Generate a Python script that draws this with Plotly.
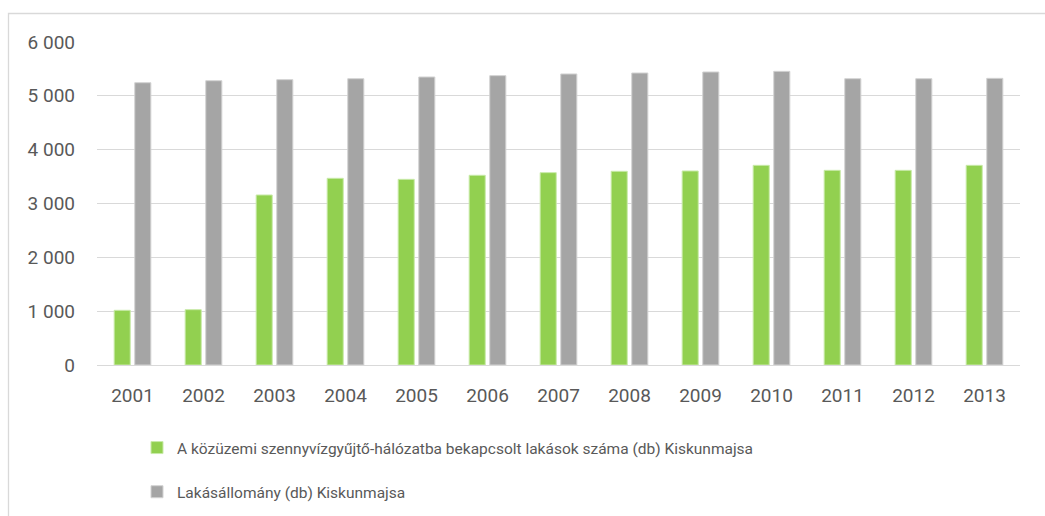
import plotly.graph_objects as go

years = ["2001", "2002", "2003", "2004", "2005", "2006", "2007",
         "2008", "2009", "2010", "2011", "2012", "2013"]
connected = [1016, 1028, 3158, 3468, 3449, 3524, 3573,
             3598, 3604, 3709, 3616, 3616, 3709]
housing_stock = [5244, 5281, 5300, 5318, 5350, 5375, 5406,
                 5424, 5443, 5455, 5318, 5318, 5325]
y_ticks = [0, 1000, 2000, 3000, 4000, 5000, 6000]
y_tick_labels = ["0", "1 000", "2 000", "3 000", "4 000", "5 000", "6 000"]

name_connected = "A közüzemi szennyvízgyűjtő-hálózatba bekapcsolt lakások száma (db) Kiskunmajsa"
name_stock = "Lakásállomány (db) Kiskunmajsa"

FONT = "Roboto, Liberation Sans, Arial, sans-serif"
TEXT = "#595959"

W, H = 1045, 516
L, R, T, B = 97, 25, 42, 151
pw, ph = W - L - R, H - T - B

fig = go.Figure()
fig.add_trace(go.Bar(
    x=years, y=connected, name=name_connected, legendgroup="a",
    marker=dict(color="#92d050", line=dict(color="#c9eaa9", width=1)),
))
fig.add_trace(go.Bar(
    x=years, y=housing_stock, name=name_stock, legendgroup="b",
    marker=dict(color="#a5a5a5", line=dict(color="#d2d2d2", width=1)),
))

# outer chart frame
fig.add_shape(
    type="rect", xref="paper", yref="paper",
    x0=(8.5 - L) / pw, x1=(W + 20 - L) / pw,
    y0=(T + ph - (H + 20)) / ph, y1=(T + ph - 13.5) / ph,
    line=dict(color="#d9d9d9", width=1.3), fillcolor="rgba(0,0,0,0)",
    layer="below",
)

fig.update_layout(
    width=W, height=H,
    margin=dict(l=L, r=R, t=T, b=B, autoexpand=False),
    paper_bgcolor="white", plot_bgcolor="white",
    barmode="group", bargap=0.42, bargroupgap=0.22,
    font=dict(family=FONT, color=TEXT, size=19),
    showlegend=True,
    legend=dict(
        orientation="v", x=(137 - L) / pw, xanchor="left",
        y=(T + ph - 431) / ph, yanchor="top",
        font=dict(size=15.5, color=TEXT, family=FONT),
        traceorder="grouped", tracegroupgap=21,
        itemwidth=30, bgcolor="rgba(0,0,0,0)",
    ),
    xaxis=dict(
        type="category", showgrid=False, showline=False, zeroline=False,
        tickfont=dict(size=19, color=TEXT), ticks="", ticklabelstandoff=17,
    ),
    yaxis=dict(
        range=[0, 6000], tickvals=y_ticks, ticktext=y_tick_labels,
        showgrid=True, gridcolor="#d9d9d9", gridwidth=1.3,
        zeroline=True, zerolinecolor="#d9d9d9", zerolinewidth=1.3,
        showline=False, ticks="", tickfont=dict(size=19, color=TEXT),
        ticklabelstandoff=21,
    ),
)

fig.write_html("out.html")
